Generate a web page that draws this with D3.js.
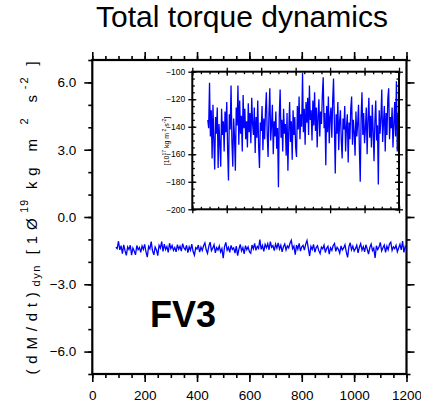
<!DOCTYPE html>
<html>
<head>
<meta charset="utf-8">
<script src="https://cdn.jsdelivr.net/npm/d3@7"></script>
<style>
  body { margin: 0; background: #fff; }
  svg { display: block; }
  text { font-family: "Liberation Sans", Arial, Helvetica, sans-serif; }
</style>
</head>
<body>
<div id="chart"></div>
<script>
// torque series in 1e17 kg m2 s-2, sampled every 5 days from day 90
const startDay = 90
const stepDays = 5
const torque17 = [
  -135, -141, -108, -147, -128, -163, -124, -150, -171, -133,
  -145, -126, -170, -138, -152, -169, -127, -146, -136, -158,
  -129, -144, -122, -156, -179, -131, -142, -110, -151, -169,
  -134, -147, -172, -126, -139, -110, -153, -121, -145, -132,
  -158, -117, -141, -127, -149, -136, -155, -123, -144, -130,
  -152, -119, -138, -146, -126, -159, -133, -148, -121, -154,
  -170, -137, -143, -125, -157, -134, -149, -128, -115, -146,
  -162, -131, -112, -150, -139, -124, -160, -136, -147, -129,
  -156, -141, -184, -132, -113, -148, -135, -158, -127, -145,
  -138, -161, -130, -172, -143, -122, -151, -136, -164, -128,
  -146, -133, -155, -162, -125, -142, -118, -149, -131, -140,
  -101, -144, -127, -153, -122, -137, -119, -146, -110, -135,
  -128, -150, -121, -139, -115, -143, -126, -155, -132, -120,
  -147, -129, -138, -117, -104, -141, -130, -168, -125, -144,
  -118, -152, -133, -126, -148, -121, -105, -139, -174, -131,
  -145, -122, -157, -136, -128, -150, -163, -134, -142, -125,
  -158, -140, -131, -166, -137, -149, -127, -118, -153, -135,
  -144, -161, -129, -147, -138, -124, -156, -180, -133, -115,
  -146, -130, -152, -141, -126, -160, -135, -119, -148, -132,
  -155, -124, -143, -165, -136, -121, -150, -139, -182, -128,
  -145, -134, -113, -151, -137, -125, -158, -130, -146, -120,
  -112, -149, -133, -141, -126, -155, -138, -122, -147, -107,
  -158, -131, -140
]

const mainXTicks = [0, 200, 400, 600, 800, 1000, 1200]
const mainYTicks = [-6, -3, 0, 3, 6]
const insetYTicks = [-200, -180, -160, -140, -120, -100]

const width = 421
const height = 408
const blue = "#0000ff"

const days = torque17.map((v, i) => startDay + i * stepDays)

const svg = d3.select("#chart")
  .append("svg")
  .attr("width", width)
  .attr("height", height)

// ---------- main panel ----------
const x = d3.scaleLinear().domain([0, 1200]).range([92.3, 406.5])
const y = d3.scaleLinear().domain([-7, 7]).range([374, 60])

const minorX = d3.range(0, 1201, 50)
const minorY = d3.range(-7, 7.01, 1)

function styleAxis(g) {
  g.select(".domain").remove()
  g.selectAll(".tick line").attr("stroke", "#000").attr("stroke-width", 1.6)
}

// bottom
svg.append("g").attr("transform", "translate(0,374)")
  .call(d3.axisBottom(x).tickValues(minorX).tickSize(4).tickFormat(""))
  .call(styleAxis)
svg.append("g").attr("transform", "translate(0,374)")
  .call(d3.axisBottom(x).tickValues(mainXTicks).tickSize(8).tickPadding(8).tickFormat(d3.format("d")))
  .call(styleAxis)
  .selectAll("text").attr("font-size", 13.5).attr("fill", "#000")
// top
svg.append("g").attr("transform", "translate(0,60)")
  .call(d3.axisTop(x).tickValues(minorX).tickSize(4).tickFormat(""))
  .call(styleAxis)
svg.append("g").attr("transform", "translate(0,60)")
  .call(d3.axisTop(x).tickValues(mainXTicks).tickSize(8).tickFormat(""))
  .call(styleAxis)
// left
svg.append("g").attr("transform", "translate(92.3,0)")
  .call(d3.axisLeft(y).tickValues(minorY).tickSize(4).tickFormat(""))
  .call(styleAxis)
svg.append("g").attr("transform", "translate(92.3,0)")
  .call(d3.axisLeft(y).tickValues(mainYTicks).tickSize(8).tickPadding(8).tickFormat(d3.format(".1f")))
  .call(styleAxis)
  .selectAll("text").attr("font-size", 13.5).attr("fill", "#000")
// right
svg.append("g").attr("transform", "translate(406.5,0)")
  .call(d3.axisRight(y).tickValues(minorY).tickSize(4).tickFormat(""))
  .call(styleAxis)
svg.append("g").attr("transform", "translate(406.5,0)")
  .call(d3.axisRight(y).tickValues(mainYTicks).tickSize(8).tickFormat(""))
  .call(styleAxis)

svg.append("rect")
  .attr("x", x(0)).attr("y", y(7))
  .attr("width", x(1200) - x(0)).attr("height", y(-7) - y(7))
  .attr("fill", "none").attr("stroke", "#000").attr("stroke-width", 2.2)

// main series (1e19 units)
const mainLine = d3.line()
  .x((d, i) => x(days[i]))
  .y(d => y(d / 100))
svg.append("path")
  .datum(torque17)
  .attr("d", mainLine)
  .attr("fill", "none")
  .attr("stroke", blue)
  .attr("stroke-width", 1.3)

// title
svg.append("text")
  .attr("x", 242).attr("y", 27)
  .attr("text-anchor", "middle")
  .attr("font-size", 30)
  .text("Total torque dynamics")

// y label
const ylab = svg.append("text")
  .attr("transform", "translate(37,215) rotate(-90)")
  .attr("text-anchor", "middle")
  .attr("font-size", 15)
  .attr("letter-spacing", 5.8)
ylab.append("tspan").text("(dM/dt)")
ylab.append("tspan").attr("dy", 3).attr("font-size", 11).attr("letter-spacing", 1.5).text("dyn")
ylab.append("tspan").attr("dy", -3).text("  [1Ø")
ylab.append("tspan").attr("dy", -9).attr("font-size", 10.5).attr("letter-spacing", 1).text("19")
ylab.append("tspan").attr("dy", 9).text("  kg m")
ylab.append("tspan").attr("dy", -9).attr("font-size", 11).text(" 2")
ylab.append("tspan").attr("dy", 9).text("  s")
ylab.append("tspan").attr("dy", -9).attr("font-size", 11).attr("letter-spacing", 2).text("-2")
ylab.append("tspan").attr("dy", 9).text(" ]")

// FV3 label
svg.append("text")
  .attr("x", 150).attr("y", 327)
  .attr("font-size", 36)
  .attr("font-weight", "bold")
  .text("FV3")

// ---------- inset panel ----------
const xi = d3.scaleLinear().domain([0, 1200]).range([192.3, 399])
const yi = d3.scaleLinear().domain([-200, -100]).range([209.3, 71.7])

const inset = svg.append("g")

inset.append("rect")
  .attr("x", xi(0)).attr("y", yi(-100))
  .attr("width", xi(1200) - xi(0)).attr("height", yi(-200) - yi(-100))
  .attr("fill", "#fff")

const insetMinorX = d3.range(0, 1201, 50)
const insetMinorY = d3.range(-200, -99, 5)

function styleInset(g) {
  g.select(".domain").remove()
  g.selectAll(".tick line").attr("stroke", "#000").attr("stroke-width", 1.3)
}

// left inset axis
inset.append("g").attr("transform", "translate(" + xi(0) + ",0)")
  .call(d3.axisRight(yi).tickValues(insetMinorY).tickSize(2.5).tickFormat(""))
  .call(styleInset)
inset.append("g").attr("transform", "translate(" + xi(0) + ",0)")
  .call(d3.axisRight(yi).tickValues(insetYTicks).tickSize(4).tickFormat(""))
  .call(styleInset)
inset.append("g").attr("transform", "translate(" + xi(0) + ",0)")
  .call(d3.axisLeft(yi).tickValues(insetYTicks).tickSize(4).tickPadding(3).tickFormat(d3.format("d")))
  .call(styleInset)
  .selectAll("text").attr("font-size", 8.5).attr("fill", "#000")
// right inset axis
inset.append("g").attr("transform", "translate(" + xi(1200) + ",0)")
  .call(d3.axisLeft(yi).tickValues(insetMinorY).tickSize(2.5).tickFormat(""))
  .call(styleInset)
inset.append("g").attr("transform", "translate(" + xi(1200) + ",0)")
  .call(d3.axisLeft(yi).tickValues(insetYTicks).tickSize(4).tickFormat(""))
  .call(styleInset)
inset.append("g").attr("transform", "translate(" + xi(1200) + ",0)")
  .call(d3.axisRight(yi).tickValues(insetYTicks).tickSize(4).tickFormat(""))
  .call(styleInset)
// bottom inset axis
inset.append("g").attr("transform", "translate(0," + yi(-200) + ")")
  .call(d3.axisTop(xi).tickValues(insetMinorX).tickSize(2.5).tickFormat(""))
  .call(styleInset)
inset.append("g").attr("transform", "translate(0," + yi(-200) + ")")
  .call(d3.axisTop(xi).tickValues(mainXTicks).tickSize(4).tickFormat(""))
  .call(styleInset)
inset.append("g").attr("transform", "translate(0," + yi(-200) + ")")
  .call(d3.axisBottom(xi).tickValues(mainXTicks).tickSize(4).tickFormat(""))
  .call(styleInset)
// top inset axis
inset.append("g").attr("transform", "translate(0," + yi(-100) + ")")
  .call(d3.axisBottom(xi).tickValues(insetMinorX).tickSize(2.5).tickFormat(""))
  .call(styleInset)
inset.append("g").attr("transform", "translate(0," + yi(-100) + ")")
  .call(d3.axisBottom(xi).tickValues(mainXTicks).tickSize(4).tickFormat(""))
  .call(styleInset)
inset.append("g").attr("transform", "translate(0," + yi(-100) + ")")
  .call(d3.axisTop(xi).tickValues(mainXTicks).tickSize(4).tickFormat(""))
  .call(styleInset)

const insetLine = d3.line()
  .x((d, i) => xi(days[i]))
  .y(d => yi(d))
inset.append("path")
  .datum(torque17)
  .attr("d", insetLine)
  .attr("fill", "none")
  .attr("stroke", blue)
  .attr("stroke-width", 1.3)

inset.append("rect")
  .attr("x", xi(0)).attr("y", yi(-100))
  .attr("width", xi(1200) - xi(0)).attr("height", yi(-200) - yi(-100))
  .attr("fill", "none").attr("stroke", "#000").attr("stroke-width", 2)

// inset y label
const ilab = inset.append("text")
  .attr("transform", "translate(169,141) rotate(-90)")
  .attr("text-anchor", "middle")
  .attr("font-size", 7)
ilab.append("tspan").text("[10")
ilab.append("tspan").attr("dy", -3).attr("font-size", 5).text("17")
ilab.append("tspan").attr("dy", 3).text(" kg m")
ilab.append("tspan").attr("dy", -3).attr("font-size", 5).text(" 2")
ilab.append("tspan").attr("dy", 3).text(" s")
ilab.append("tspan").attr("dy", -3).attr("font-size", 5).text("-2")
ilab.append("tspan").attr("dy", 3).text("]")
</script>
</body>
</html>
